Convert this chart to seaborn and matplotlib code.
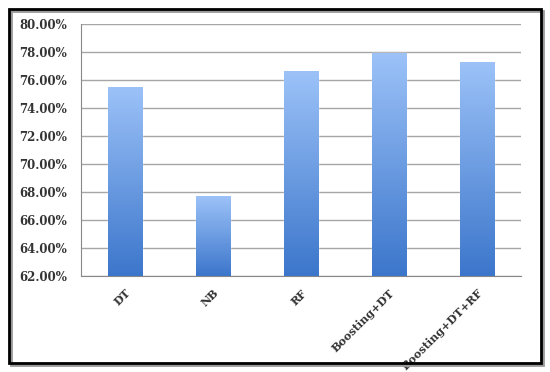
import numpy as np
import pandas as pd
import seaborn as sns
import matplotlib.pyplot as plt
from matplotlib.patches import Rectangle
from matplotlib.colors import LinearSegmentedColormap

# Data
models = ["DT", "NB", "RF", "Boosting+DT", "Boosting+DT+RF"]
accuracy = [75.5, 67.7, 76.6, 77.9, 77.3]
y_ticks = [62, 64, 66, 68, 70, 72, 74, 76, 78, 80]

df = pd.DataFrame({"model": models, "accuracy": accuracy})

sns.set_style("white")
plt.rcParams['font.family'] = ['DejaVu Serif']

fig = plt.figure(figsize=(5.5, 3.72), dpi=100)
ax = fig.add_axes([0.147, 0.258, 0.800, 0.678])

sns.barplot(data=df, x="model", y="accuracy", color="#6699dd",
            width=0.39, ax=ax, zorder=3)

# gradient fill on each bar
cmap = LinearSegmentedColormap.from_list("bar", ["#3c76cb", "#9cc2f8"])
grad = np.linspace(0, 1, 256).reshape(-1, 1)
for p in ax.patches:
    x0, y0 = p.get_x(), p.get_y()
    w, h = p.get_width(), p.get_height()
    im = ax.imshow(grad, cmap=cmap, origin="lower", aspect="auto",
                   extent=[x0, x0 + w, 62, y0 + h], zorder=4)
    im.set_clip_path(p)
ax.set_xlim(-0.5, len(models) - 0.5)
ax.set_ylim(62, 80)

ax.set_yticks(y_ticks)
ax.set_yticklabels([f"{v:.2f}%" for v in y_ticks],
                   fontsize=8.5, fontweight="bold", color="#333333")
ax.set_xticks(range(len(models)))
ax.set_xticklabels(models, rotation=45, ha="right", rotation_mode="anchor",
                   fontsize=8, fontweight="bold", color="#333333")
ax.tick_params(axis="x", length=0, pad=8)
ax.set_xticks(np.arange(0.5, len(models) - 0.5 + 0.01, 1.0), minor=True)
ax.tick_params(axis="x", which="minor", length=4, color="#888888", width=0.8)
ax.tick_params(axis="y", length=4, color="#888888", width=0.8, pad=6)
ax.set_xlabel("")
ax.set_ylabel("")

ax.yaxis.grid(True, color="#a6a6a6", linewidth=1.0, zorder=0)
ax.set_axisbelow(True)
for side in ["top", "right"]:
    ax.spines[side].set_visible(False)
for side in ["left", "bottom"]:
    ax.spines[side].set_color("#888888")
    ax.spines[side].set_linewidth(0.8)

# outer frame with shadow
fig.patches.append(Rectangle((11 / 550, 7 / 372), 532 / 550, 354 / 372,
                             transform=fig.transFigure, fill=False,
                             edgecolor="#999999", linewidth=2.0))
fig.patches.append(Rectangle((9 / 550, 9 / 372), 532 / 550, 354 / 372,
                             transform=fig.transFigure, fill=False,
                             edgecolor="black", linewidth=2.0))

fig.savefig("out.png", dpi=100)
